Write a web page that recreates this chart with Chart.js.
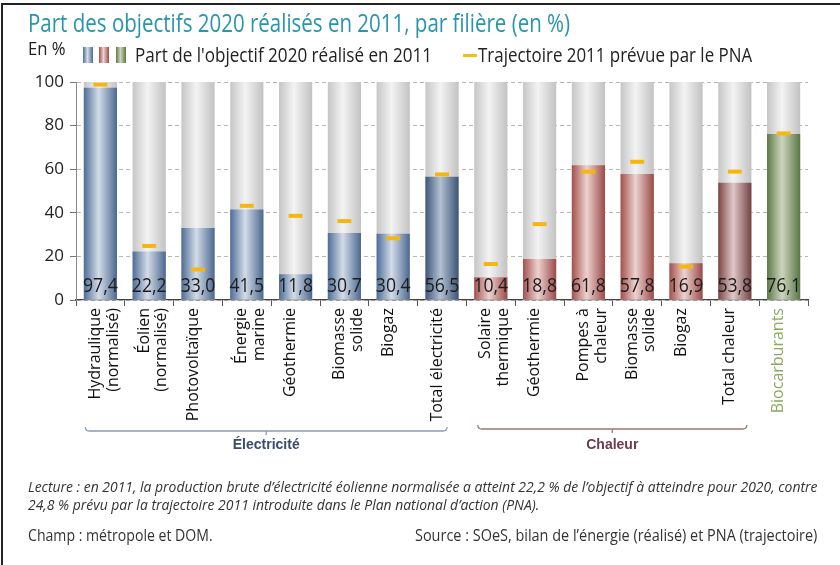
<!DOCTYPE html>
<html lang="fr">
<head>
<meta charset="utf-8">
<script src="https://cdn.jsdelivr.net/npm/chart.js@4.4.1/dist/chart.umd.min.js"></script>
<style>
  html, body { margin: 0; padding: 0; background: #fff; }
  #wrap {
    position: relative; width: 840px; height: 565px; overflow: hidden;
    font-family: 'Open Sans', sans-serif; color: #222;
  }
  #frame { position: absolute; left: 1px; top: 3px; width: 845px; height: 570px;
           border-left: 2px solid #222; border-top: 2px solid #222; }
  canvas { position: absolute; left: 0; top: 0; }
  .txt { position: absolute; white-space: nowrap; transform-origin: 0 0; }
  #title { left: 28px; top: 6px; font-size: 25px; line-height: 32px; color: #2796a8; }
  #unit { left: 28px; top: 37px; font-size: 18px; line-height: 22px; }
  .sw { position: absolute; top: 47px; width: 10px; height: 16px; }
  #sw1 { left: 83px; background: linear-gradient(90deg, #4e6d97, #d3dce8 45%, #4b6890); }
  #sw2 { left: 99px; background: linear-gradient(90deg, #a4504c, #ecd2d0 45%, #9c4a47); }
  #sw3 { left: 116px; background: linear-gradient(90deg, #5d7a45, #cdd5bf 45%, #5a7642); }
  #leg1 { left: 135px; top: 42px; font-size: 20px; line-height: 26px; }
  #legdash { position: absolute; left: 463px; top: 54px; width: 14px; height: 3px; background: #f2c20f; }
  #leg2 { left: 478px; top: 42px; font-size: 20px; line-height: 26px; }
  .lect { font-size: 14px; line-height: 18px; font-style: italic; color: #333; left: 28px; }
  #lect1 { top: 478px; }
  #lect2 { top: 496px; }
  #champ { left: 28px; top: 524px; font-size: 16px; line-height: 22px; color: #333; }
  #source { left: 415px; top: 524px; font-size: 16px; line-height: 22px; color: #333; }
</style>
</head>
<body>
<div id="wrap">
  <div id="frame"></div>
  <canvas id="chart" width="840" height="565"></canvas>
  <div class="txt" id="title" data-w="542">Part des objectifs 2020 réalisés en 2011, par filière (en %)</div>
  <div class="txt" id="unit" data-w="38">En %</div>
  <div class="sw" id="sw1"></div><div class="sw" id="sw2"></div><div class="sw" id="sw3"></div>
  <div class="txt" id="leg1" data-w="297">Part de l'objectif 2020 réalisé en 2011</div>
  <div id="legdash"></div>
  <div class="txt" id="leg2" data-w="274">Trajectoire 2011 prévue par le PNA</div>
  <div class="txt lect" id="lect1" data-w="789">Lecture : en 2011, la production brute d’électricité éolienne normalisée a atteint 22,2 % de l’objectif à atteindre pour 2020, contre</div>
  <div class="txt lect" id="lect2">24,8 % prévu par la trajectoire 2011 introduite dans le Plan national d’action (PNA).</div>
  <div class="txt" id="champ" data-w="185">Champ : métropole et DOM.</div>
  <div class="txt" id="source" data-w="402">Source : SOeS, bilan de l’énergie (réalisé) et PNA (trajectoire)</div>
</div>

<script>
// filières
const FILIERES = [
  ['Hydraulique', '(normalisé)'], ['Éolien', '(normalisé)'], 'Photovoltaïque', ['Énergie', 'marine'],
  'Géothermie', ['Biomasse', 'solide'], 'Biogaz', 'Total électricité',
  ['Solaire', 'thermique'], 'Géothermie', ['Pompes à', 'chaleur'], ['Biomasse', 'solide'], 'Biogaz', 'Total chaleur',
  'Biocarburants',
];
// famille de chaque filière
const FAMILLES = [
  'elec', 'elec', 'elec', 'elec', 'elec', 'elec', 'elec', 'elecTotal',
  'chal', 'chal', 'chal', 'chal', 'chal', 'chalTotal',
  'bio',
];
// part de l'objectif 2020 réalisée en 2011 (%)
const REALISE = [97.4, 22.2, 33.0, 41.5, 11.8, 30.7, 30.4, 56.5, 10.4, 18.8, 61.8, 57.8, 16.9, 53.8, 76.1];
// trajectoire 2011 prévue par le PNA (%)
const PNA = [98.8, 24.8, 14.0, 43.2, 38.6, 36.2, 28.3, 57.6, 16.5, 34.8, 58.9, 63.4, 15.3, 58.9, 76.4];
const OBJECTIF = FILIERES.map(() => 100);
const Y_TICKS = [0, 20, 40, 60, 80, 100];
const GROUPES = [
  { nom: 'Électricité', de: 0, a: 7 },
  { nom: 'Chaleur', de: 8, a: 13 },
];

const FONT = "'Open Sans', sans-serif";
const CAT_PCT = 0.68;

const FILLS = {
  elec:      ['#4e6d97', '#d3dce8', '#4b6890'],
  elecTotal: ['#3f5779', '#b3c1d3', '#3c5474'],
  chal:      ['#a4504c', '#ecd2d0', '#9c4a47'],
  chalTotal: ['#7c4646', '#dfc8c8', '#744242'],
  bio:       ['#5d7a45', '#cdd5bf', '#5a7642'],
  fond:      ['#c6c6c6', '#f3f3f3', '#c2c2c2'],
};
const GROUP_STYLE = {
  'Électricité': { line: '#8d9bb4', text: '#3b4c6b', left: -15, right: 5, y: 431 },
  'Chaleur': { line: '#9c7676', text: '#6b3c4a', left: -13, right: 12, y: 429 },
};

// squeeze the html texts to their column widths (condensed look)
let squeeze = 1;
document.querySelectorAll('.txt[data-w]').forEach(el => {
  const k = +el.dataset.w / el.scrollWidth;
  el.style.transform = `scaleX(${k})`;
  if (el.id === 'lect1') squeeze = k;
});
document.getElementById('lect2').style.transform = `scaleX(${squeeze})`;

// cylinder-like horizontal gradient across one bar
function barFill(c, stops) {
  const chart = c.chart;
  const xs = chart.scales.x;
  if (!chart.chartArea || !xs) return stops[0];
  const cx = xs.getPixelForValue(c.dataIndex);
  const w = xs.width / FILIERES.length * CAT_PCT;
  if (!isFinite(cx) || !isFinite(w) || w <= 0) return stops[0];
  const g = chart.ctx.createLinearGradient(cx - w / 2, 0, cx + w / 2, 0);
  g.addColorStop(0, stops[0]);
  g.addColorStop(0.45, stops[1]);
  g.addColorStop(1, stops[2]);
  return g;
}

const valueLabels = {
  id: 'valueLabels',
  afterDatasetsDraw(chart) {
    const { ctx, scales: { x, y } } = chart;
    ctx.save();
    ctx.font = `20px ${FONT}`;
    ctx.fillStyle = '#1c1c1c';
    ctx.textAlign = 'center';
    ctx.textBaseline = 'alphabetic';
    REALISE.forEach((v, i) => {
      ctx.save();
      ctx.translate(x.getPixelForValue(i), y.getPixelForValue(0) - 8);
      ctx.scale(0.88, 1);
      ctx.fillText(v.toFixed(1).replace('.', ','), 0, 0);
      ctx.restore();
    });
    ctx.restore();
  },
};

const brackets = {
  id: 'brackets',
  afterDraw(chart) {
    const { ctx, scales: { x } } = chart;
    ctx.save();
    GROUPES.forEach(g => {
      const st = GROUP_STYLE[g.nom];
      const x0 = x.getPixelForValue(g.de) + st.left;
      const x1 = x.getPixelForValue(g.a) + st.right;
      const yb = st.y;
      ctx.strokeStyle = st.line;
      ctx.lineWidth = 1.3;
      ctx.beginPath();
      ctx.moveTo(x0, yb - 4);
      ctx.quadraticCurveTo(x0, yb, x0 + 4, yb);
      ctx.lineTo(x1 - 4, yb);
      ctx.quadraticCurveTo(x1, yb, x1, yb - 4);
      ctx.stroke();
      const xm = (x0 + x1) / 2;
      ctx.beginPath();
      ctx.moveTo(xm, yb);
      ctx.lineTo(xm, yb + 4);
      ctx.stroke();
      ctx.font = "bold 14px 'Liberation Sans', Arial, sans-serif";
      ctx.fillStyle = st.text;
      ctx.textAlign = 'center';
      ctx.textBaseline = 'middle';
      ctx.fillText(g.nom, xm, 445);
    });
    ctx.restore();
  },
};

new Chart(document.getElementById('chart'), {
  type: 'bar',
  data: {
    labels: FILIERES,
    datasets: [
      {
        type: 'line',
        label: 'Trajectoire 2011 prévue par le PNA',
        data: PNA,
        showLine: false,
        pointStyle: 'line',
        pointRadius: 7,
        pointBorderWidth: 4,
        pointBorderColor: '#f4b70f',
        pointBackgroundColor: '#f4b70f',
        order: 0,
      },
      {
        label: "Part de l'objectif 2020 réalisé en 2011",
        data: REALISE,
        backgroundColor: c => barFill(c, FILLS[FAMILLES[c.dataIndex]]),
        grouped: false,
        categoryPercentage: CAT_PCT,
        barPercentage: 1,
        order: 1,
      },
      {
        label: 'Objectif 2020',
        data: OBJECTIF,
        backgroundColor: c => barFill(c, FILLS.fond),
        grouped: false,
        categoryPercentage: CAT_PCT,
        barPercentage: 1,
        order: 2,
      },
    ],
  },
  options: {
    responsive: false,
    animation: false,
    devicePixelRatio: 1,
    layout: { padding: { left: 36, top: 82, right: 32, bottom: 0 } },
    plugins: { legend: { display: false }, tooltip: { enabled: false } },
    scales: {
      x: {
        offset: true,
        afterFit: s => { s.height = 265; },
        grid: { drawOnChartArea: false, offset: true, color: '#555', tickLength: 6 },
        border: { color: '#444', width: 1.2 },
        ticks: {
          autoSkip: false,
          minRotation: 90,
          maxRotation: 90,
          padding: 2,
          labelOffset: -5,
          color: c => (c.index === FILIERES.length - 1 ? '#8dab5d' : '#111'),
          font: { family: FONT, size: 16, lineHeight: 1.1 },
        },
      },
      y: {
        min: 0,
        max: 100,
        afterFit: s => { s.width = 40; },
        afterBuildTicks: s => { s.ticks = Y_TICKS.map(v => ({ value: v })); },
        grid: { color: '#b8b8b8', tickBorderDash: [], tickColor: '#777', tickLength: 6 },
        border: { color: '#888', width: 1, dash: [4, 3] },
        ticks: { padding: 6, color: '#222', font: { family: FONT, size: 17 } },
      },
    },
  },
  plugins: [valueLabels, brackets],
});
</script>
</body>
</html>
